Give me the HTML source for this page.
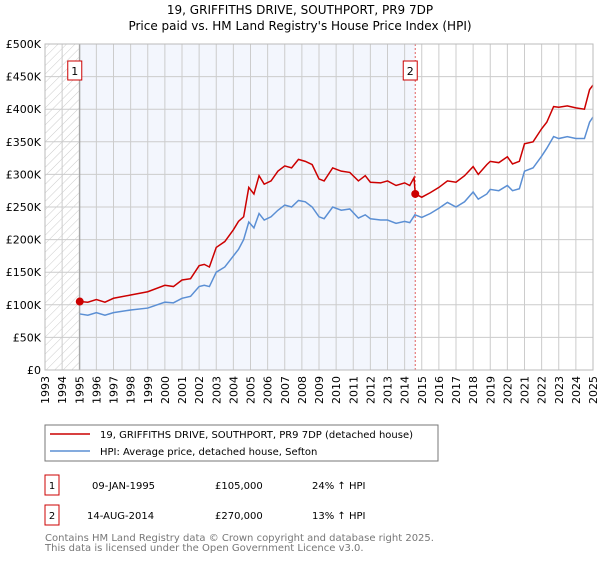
<!DOCTYPE html>
<html><head><meta charset="utf-8"><style>
body{margin:0;background:#fff;font-family:"Liberation Sans","DejaVu Sans",sans-serif;}
</style></head><body>
<svg width="600" height="560" xmlns="http://www.w3.org/2000/svg" font-family="DejaVu Sans, Liberation Sans, sans-serif">
<defs><pattern id="hatch" width="6" height="6" patternUnits="userSpaceOnUse" patternTransform="rotate(45)"><line x1="0" y1="0" x2="0" y2="6" stroke="#ccc" stroke-width="1"/></pattern></defs>
<text x="300" y="14" text-anchor="middle" font-size="12">19, GRIFFITHS DRIVE, SOUTHPORT, PR9 7DP</text>
<text x="300" y="30" text-anchor="middle" font-size="12">Price paid vs. HM Land Registry's House Price Index (HPI)</text>
<g id="plot"></g>
<g id="legend">
<rect x="45" y="425" width="393" height="36" fill="#fff" stroke="#777"/>
<line x1="50" y1="434" x2="90" y2="434" stroke="#cc0000" stroke-width="1.5"/>
<text x="100" y="438" font-size="10">19, GRIFFITHS DRIVE, SOUTHPORT, PR9 7DP (detached house)</text>
<line x1="50" y1="451" x2="90" y2="451" stroke="#5b8fd4" stroke-width="1.5"/>
<text x="100" y="455" font-size="10">HPI: Average price, detached house, Sefton</text>
</g>
<g font-size="10">
<rect x="45" y="475" width="14" height="20" fill="#fff" stroke="#cc0000"/>
<text x="52" y="489" text-anchor="middle">1</text>
<text x="92" y="489">09-JAN-1995</text><text x="215" y="489">£105,000</text><text x="312" y="489">24% ↑ HPI</text>
<rect x="45" y="505" width="14" height="20" fill="#fff" stroke="#cc0000"/>
<text x="52" y="519" text-anchor="middle">2</text>
<text x="87" y="519">14-AUG-2014</text><text x="215" y="519">£270,000</text><text x="312" y="519">13% ↑ HPI</text>
</g>
<text x="45" y="541" font-size="10" fill="#777">Contains HM Land Registry data © Crown copyright and database right 2025.</text>
<text x="45" y="551" font-size="10" fill="#777">This data is licensed under the Open Government Licence v3.0.</text>
</svg>
<script>
const yearTicks=[1993,1994,1995,1996,1997,1998,1999,2000,2001,2002,2003,2004,2005,2006,2007,2008,2009,2010,2011,2012,2013,2014,2015,2016,2017,2018,2019,2020,2021,2022,2023,2024,2025];
const valueTicks=[0,50,100,150,200,250,300,350,400,450,500];
const valueLabels=["£0","£50K","£100K","£150K","£200K","£250K","£300K","£350K","£400K","£450K","£500K"];
const hpiYears=[1995.03,1995.5,1996,1996.5,1997,1998,1999,2000,2000.5,2001,2001.5,2002,2002.3,2002.6,2003,2003.5,2004,2004.3,2004.6,2004.9,2005.2,2005.5,2005.8,2006.2,2006.6,2007,2007.4,2007.8,2008.2,2008.6,2009,2009.3,2009.8,2010.3,2010.8,2011.3,2011.7,2012,2012.6,2013,2013.5,2014,2014.3,2014.6,2015,2015.5,2016,2016.5,2017,2017.5,2018,2018.3,2018.8,2019,2019.5,2020,2020.3,2020.7,2021,2021.5,2022,2022.3,2022.7,2023,2023.5,2024,2024.5,2024.8,2025];
const hpiValues=[86,84,88,84,88,92,95,104,103,110,113,128,130,128,150,158,175,185,200,227,218,240,230,235,245,253,250,260,258,250,235,232,250,245,247,233,238,232,230,230,225,228,226,238,234,240,248,257,250,258,273,262,270,277,275,283,275,278,305,310,328,340,358,355,358,355,355,380,388];
const priceYears=[1995.03,1995.5,1996,1996.5,1997,1998,1999,2000,2000.5,2001,2001.5,2002,2002.3,2002.6,2003,2003.5,2004,2004.3,2004.6,2004.9,2005.2,2005.5,2005.8,2006.2,2006.6,2007,2007.4,2007.8,2008.2,2008.6,2009,2009.3,2009.8,2010.3,2010.8,2011.3,2011.7,2012,2012.6,2013,2013.5,2014,2014.3,2014.55,2014.62,2015,2015.5,2016,2016.5,2017,2017.5,2018,2018.3,2018.8,2019,2019.5,2020,2020.3,2020.7,2021,2021.5,2022,2022.3,2022.7,2023,2023.5,2024,2024.5,2024.8,2025];
const priceValues=[105,104,108,104,110,115,120,130,128,138,140,160,162,158,188,197,215,228,235,280,270,298,285,290,305,313,310,323,320,315,293,290,310,305,303,290,298,288,287,290,283,287,283,295,270,265,272,280,290,288,298,312,300,315,320,318,327,316,320,347,350,370,380,404,403,405,402,400,430,437];
const saleYears=[1995.03,2014.62];
const saleValues=[105,270];
const saleLabels=["1","2"];
const NS="http://www.w3.org/2000/svg";
const X0=45,X1=593,Y0=370,Y1=44;
const xs=y=>X0+(y-1993)/(2025-1993)*(X1-X0);
const ys=v=>Y0-v/500*(Y0-Y1);
const g=document.getElementById('plot');
function mk(t,a){const e=document.createElementNS(NS,t);for(const k in a)e.setAttribute(k,a[k]);g.appendChild(e);return e;}
let e;
e=mk('rect',{x:X0,y:Y1,width:X1-X0,height:Y0-Y1,fill:'#fff'});


e=mk('rect',{x:X0,y:Y1,width:xs(saleYears[0])-X0,height:Y0-Y1,fill:'url(#hatch)'});


e=mk('rect',{x:xs(saleYears[0]),y:Y1,width:xs(saleYears[1])-xs(saleYears[0]),height:Y0-Y1,fill:'#f3f6fd'});


yearTicks.forEach(yr=>{
 e=mk('line',{x1:xs(yr),x2:xs(yr),y1:Y1,y2:Y0,stroke:'#ccc','stroke-width':1});
 
 
 e=mk('text',{x:0,y:0,'font-size':11,'text-anchor':'end',transform:`translate(${xs(yr)+4},${Y0+6}) rotate(-90)`});
 e.textContent=yr;
 
 
});
valueTicks.forEach((v,i)=>{
 e=mk('line',{x1:X0,x2:X1,y1:ys(v),y2:ys(v),stroke:'#ccc','stroke-width':1});
 
 
 e=mk('text',{x:X0-4,y:ys(v)+4,'font-size':11,'text-anchor':'end'});
 e.textContent=valueLabels[i];
 
 
});
e=mk('line',{x1:xs(saleYears[0]),x2:xs(saleYears[0]),y1:Y1,y2:Y0,stroke:'#999','stroke-width':1});


e=mk('line',{x1:xs(saleYears[1]),x2:xs(saleYears[1]),y1:Y1,y2:Y0,stroke:'#e06060','stroke-width':1,'stroke-dasharray':'2,2'});


e=mk('polyline',{points:hpiYears.map((y,i)=>xs(y)+','+ys(hpiValues[i])).join(' '),fill:'none',stroke:'#5b8fd4','stroke-width':1.5});


e=mk('polyline',{points:priceYears.map((y,i)=>xs(y)+','+ys(priceValues[i])).join(' '),fill:'none',stroke:'#cc0000','stroke-width':1.5});


saleYears.forEach((y,i)=>{
 e=mk('circle',{cx:xs(y),cy:ys(saleValues[i]),r:4,fill:'#cc0000'});
 
 
 e=mk('rect',{x:xs(y)-12,y:61,width:14,height:19,fill:'#fff',stroke:'#cc0000'});
 
 
 e=mk('text',{x:xs(y)-5,y:75,'font-size':11,'text-anchor':'middle'});
 e.textContent=saleLabels[i];
 
 
});
e=mk('rect',{x:X0,y:Y1,width:X1-X0,height:Y0-Y1,fill:'none',stroke:'#bbb'});


</script>
</body></html>
